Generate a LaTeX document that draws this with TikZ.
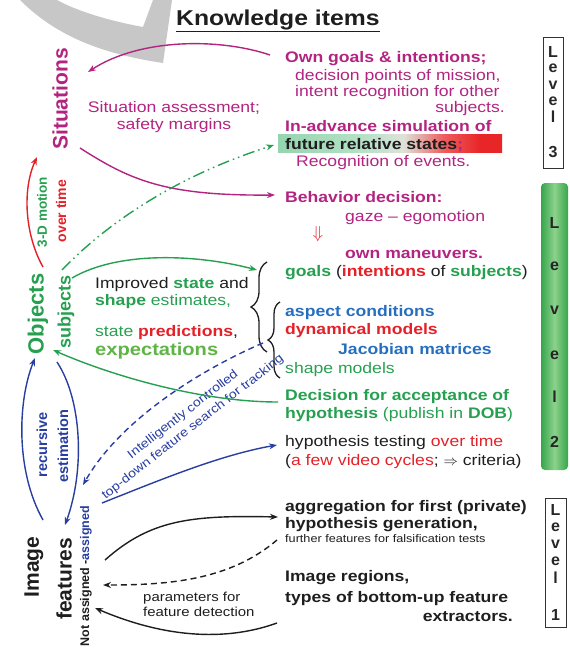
\documentclass[tikz,border=0pt]{standalone}
\usepackage{fontspec}
\setmainfont[FakeStretch=1.15]{Liberation Sans}
\newfontfamily\plainsans{Liberation Sans}
\usepackage{tikz}
\usetikzlibrary{arrows.meta,decorations.pathreplacing}

\definecolor{sitmag}{RGB}{178,36,128}
\definecolor{objgreen}{RGB}{38,160,80}
\definecolor{expgreen}{RGB}{95,180,70}
\definecolor{predred}{RGB}{228,32,40}
\definecolor{aspblue}{RGB}{38,110,190}
\definecolor{estblue}{RGB}{40,62,160}
\definecolor{txtblack}{RGB}{30,30,30}
\definecolor{barmint}{RGB}{150,212,175}
\definecolor{barpale}{RGB}{222,226,218}
\definecolor{barred}{RGB}{232,38,40}
\definecolor{lvgreen}{RGB}{55,165,75}
\definecolor{lvlight}{RGB}{140,210,140}

\pgfdeclarehorizontalshading{statebar}{100bp}{color(0bp)=(barmint); color(25bp)=(barmint); color(44bp)=(barmint!70!white); color(53bp)=(barpale); color(62bp)=(barred!75!white); color(70bp)=(barred); color(100bp)=(barred)}

\newcommand{\txtsize}[1]{\fontsize{#1}{#1}\selectfont}

\begin{document}
\begin{tikzpicture}[x=1pt,y=-1pt,
  item/.style={anchor=base west,inner sep=0pt,font=\txtsize{15.3}},
  bold/.style={font=\bfseries\txtsize{15.3}},
  rot/.style={rotate=90,inner sep=0pt},
  lvlabel/.style={inner sep=0pt,font=\plainsans\bfseries\txtsize{16},text=black!85},
  link/.style={-{Stealth[length=8pt,width=6pt]},line width=1.4pt},
  dashdot/.style={dash pattern=on 12pt off 4pt on 1.5pt off 4pt on 1.5pt off 4pt}]
\useasboundingbox (0,0) rectangle (570,648);

% grey stroke in the corner
\fill[black!22] (20,0) .. controls (60,40) and (110,55) .. (163,63) -- (172,0) -- (153,0)
  -- (143,27) .. controls (105,20) and (75,10) .. (57,0) -- cycle;

% title
\node[item,text=txtblack,font=\bfseries\txtsize{21.5}] (title) at (176,25) {\underline{Knowledge items}};

% level 3 items
\node[item,text=sitmag,bold] (owngoals) at (285,62) {Own goals \& intentions;};
\node[item,text=sitmag] (decpoints) at (295,80) {decision points of mission,};
\node[item,text=sitmag] (intentrec) at (295,96) {intent recognition for other};
\node[item,anchor=base east,text=sitmag] (subjdot) at (505,112) {subjects.};
\node[item,text=sitmag,bold] (inadvance) at (285,131) {In-advance simulation of};
\shade[shading=statebar] (278,134) rectangle (502,152);
\node[item,bold] (futstates) at (285,149) {\textcolor{txtblack}{future relative states}\textcolor{sitmag}{;}};
\node[item,text=sitmag] (events) at (296,166) {Recognition of events.};

% level 2 items
\node[item,text=sitmag,bold] (behavior) at (285,202) {Behavior decision:};
\node[item,text=sitmag] (gaze) at (345,221) {gaze -- egomotion};
\node[text=predred,font=\txtsize{19},inner sep=0pt] (downarrow) at (318,234) {$\Downarrow$};
\node[item,text=sitmag,bold] (maneuvers) at (345,258) {own maneuvers.};
\node[item,bold] (goals) at (285,276) {\textcolor{objgreen}{goals} \textcolor{txtblack}{\mdseries(}\textcolor{predred}{intentions} \textcolor{txtblack}{\mdseries of} \textcolor{objgreen}{subjects}\textcolor{txtblack}{\mdseries)}};
\node[item,text=aspblue,bold] (aspect) at (285,316) {aspect conditions};
\node[item,text=predred,bold] (dynmodels) at (285,334) {dynamical models};
\node[item,text=aspblue,bold] (jacobian) at (338,354) {Jacobian matrices};
\node[item,text=objgreen] (shapemodels) at (285,373) {shape models};
\node[item,text=objgreen,bold] (acceptance) at (285,400) {Decision for acceptance of};
\node[item,text=objgreen] (publish) at (285,418) {\textbf{hypothesis} (publish in \textbf{DOB})};
\node[item,text=txtblack] (testing) at (285,446) {hypothesis testing \textcolor{predred}{over time}};
\node[item,text=txtblack] (cycles) at (285,465) {(\textcolor{predred}{a few video cycles}; $\Rightarrow$ criteria)};

% level 1 items
\node[item,text=txtblack,bold] (aggregation) at (285,511) {aggregation for first (private)};
\node[item,text=txtblack,bold] (hypgen) at (285,528) {hypothesis generation,};
\node[item,text=txtblack,font=\txtsize{11}] (falsif) at (285,542) {further features for falsification tests};
\node[item,text=txtblack,bold] (regions) at (285,581) {Image regions,};
\node[item,text=txtblack,bold] (types) at (285,602) {types of bottom-up feature};
\node[item,anchor=base east,text=txtblack,bold] (extractors) at (513,621) {extractors.};

% middle texts
\node[item,anchor=base,text=sitmag] (assess) at (174,112) {Situation assessment;};
\node[item,anchor=base,text=sitmag] (margins) at (174,129) {safety margins};
\node[item] (improved) at (95,288) {\textcolor{txtblack}{Improved} \textcolor{objgreen}{\bfseries state} \textcolor{txtblack}{and}};
\node[item,text=objgreen] (shapeest) at (95,305) {\textbf{shape} estimates,};
\node[item] (predictions) at (95,336) {\textcolor{objgreen}{state} \textcolor{predred}{\bfseries predictions}\textcolor{txtblack}{,}};
\node[item,text=expgreen,font=\bfseries\txtsize{17.5}] (expect) at (95,355) {expectations};
\node[text=estblue,rotate=38,font=\txtsize{12.3},inner sep=0pt,align=center] (tracking) at (188,421)
  {Intelligently controlled\\[3.5pt] top-down feature search for tracking};
\node[item,text=txtblack,font=\txtsize{13}] (params) at (143,601) {parameters for};
\node[item,text=txtblack,font=\txtsize{13}] (detection) at (143,616) {feature detection};

% left column
\node[rot,text=sitmag,font=\plainsans\bfseries\txtsize{21}] (situations) at (60,99) {Situations};
\node[rot,text=objgreen,font=\plainsans\bfseries\txtsize{13.5}] (motion) at (42,212) {3-D motion};
\node[rot,text=predred,font=\plainsans\bfseries\txtsize{14}] (overtime) at (61,211) {over time};
\node[rot,text=objgreen,font=\plainsans\bfseries\txtsize{22}] (objects) at (38,314) {Objects};
\node[rot,text=objgreen,font=\plainsans\bfseries\txtsize{18}] (subjects) at (66,312) {subjects};
\node[rot,text=estblue,font=\plainsans\bfseries\txtsize{14.5}] (recursive) at (42,445) {recursive};
\node[rot,text=estblue,font=\plainsans\bfseries\txtsize{14.5}] (estimation) at (63,446) {estimation};
\node[rot,text=txtblack,font=\plainsans\bfseries\txtsize{21}] (image) at (34,567) {Image};
\node[rot,text=txtblack,font=\plainsans\bfseries\txtsize{21}] (features) at (64,579) {features};
\node[rot,text=txtblack,font=\plainsans\bfseries\txtsize{12.5}] (assigned) at (86,576) {Not assigned -\textcolor{estblue}{assigned}};

% level boxes
\draw[line width=0.8pt,black!80] (543,37) rectangle (563,168);
\foreach \ch/\yy [count=\i] in {L/52,e/68,v/85,e/101,l/117,3/152}
  \node[lvlabel] (lvthree\i) at (553,\yy) {\ch};
\shade[rounded corners=4pt,left color=lvgreen,right color=lvgreen,middle color=lvlight] (541,183) rectangle (568,470);
\foreach \ch/\yy [count=\i] in {L/223,e/266,v/310,e/355,l/397,2/442}
  \node[lvlabel] (lvtwo\i) at (554.5,\yy) {\ch};
\draw[line width=0.8pt,black!80] (545,498) rectangle (566,627);
\foreach \ch/\yy [count=\i] in {L/510,e/527,v/544,e/561,l/578,1/615}
  \node[lvlabel] (lvone\i) at (555.5,\yy) {\ch};

% braces
\coordinate (braceonelow) at (267,352);
\coordinate (braceonehigh) at (267,262);
\coordinate (bracetwolow) at (280,378);
\coordinate (bracetwohigh) at (280,302);
\draw[line width=1.3pt,txtblack,decorate,decoration={brace,amplitude=16pt}] (braceonelow) -- (braceonehigh);
\draw[line width=1.3pt,txtblack,decorate,decoration={brace,amplitude=12pt}] (bracetwolow) -- (bracetwohigh);

% connectors
\coordinate (goalsout) at (270,55);
\coordinate (sitin) at (88,72);
\coordinate (sitout) at (80,148);
\coordinate (behavin) at (275,195);
\coordinate (subjout) at (62,270);
\coordinate (futin) at (274,145);
\coordinate (objout) at (72,278);
\coordinate (bracein) at (257,270);
\coordinate (accout) at (278,402);
\coordinate (objin) at (53,350);
\coordinate (objtop) at (43,267);
\coordinate (sitlow) at (37,157);
\coordinate (imgup) at (43,520);
\coordinate (objlow) at (35,358);
\coordinate (objdown) at (57,362);
\coordinate (imgtop) at (65,525);
\coordinate (bracetip) at (263,343);
\coordinate (featin) at (83,485);
\coordinate (featout) at (102,503);
\coordinate (testin) at (277,445);
\coordinate (featright) at (105,560);
\coordinate (aggrin) at (278,517);
\coordinate (falsout) at (277,540);
\coordinate (featdash) at (103,585);
\coordinate (regout) at (277,623);
\coordinate (featlow) at (95,608);

\draw[link,sitmag] (goalsout) .. controls (220,38) and (140,38) .. (sitin);
\draw[link,sitmag] (sitout) .. controls (130,180) and (165,196) .. (behavin);
\draw[link,objgreen,dashdot] (subjout) .. controls (110,220) and (180,175) .. (futin);
\draw[link,objgreen] (objout) .. controls (120,250) and (200,255) .. (bracein);
\draw[link,objgreen] (accout) .. controls (200,402) and (110,375) .. (objin);
\draw[link,predred] (objtop) .. controls (25,235) and (22,190) .. (sitlow);
\draw[link,estblue] (imgup) .. controls (15,470) and (18,400) .. (objlow);
\draw[link,estblue] (objdown) .. controls (82,400) and (85,470) .. (imgtop);
\draw[link,estblue,dash pattern=on 6pt off 4pt] (bracetip) .. controls (200,370) and (120,420) .. (featin);
\draw[link,estblue] (featout) .. controls (160,480) and (220,455) .. (testin);
\draw[link,txtblack] (featright) .. controls (150,520) and (190,515) .. (aggrin);
\draw[link,txtblack,dash pattern=on 6pt off 4pt] (falsout) .. controls (230,580) and (170,585) .. (featdash);
\draw[link,txtblack] (regout) .. controls (230,640) and (170,640) .. (featlow);
\end{tikzpicture}
\end{document}
